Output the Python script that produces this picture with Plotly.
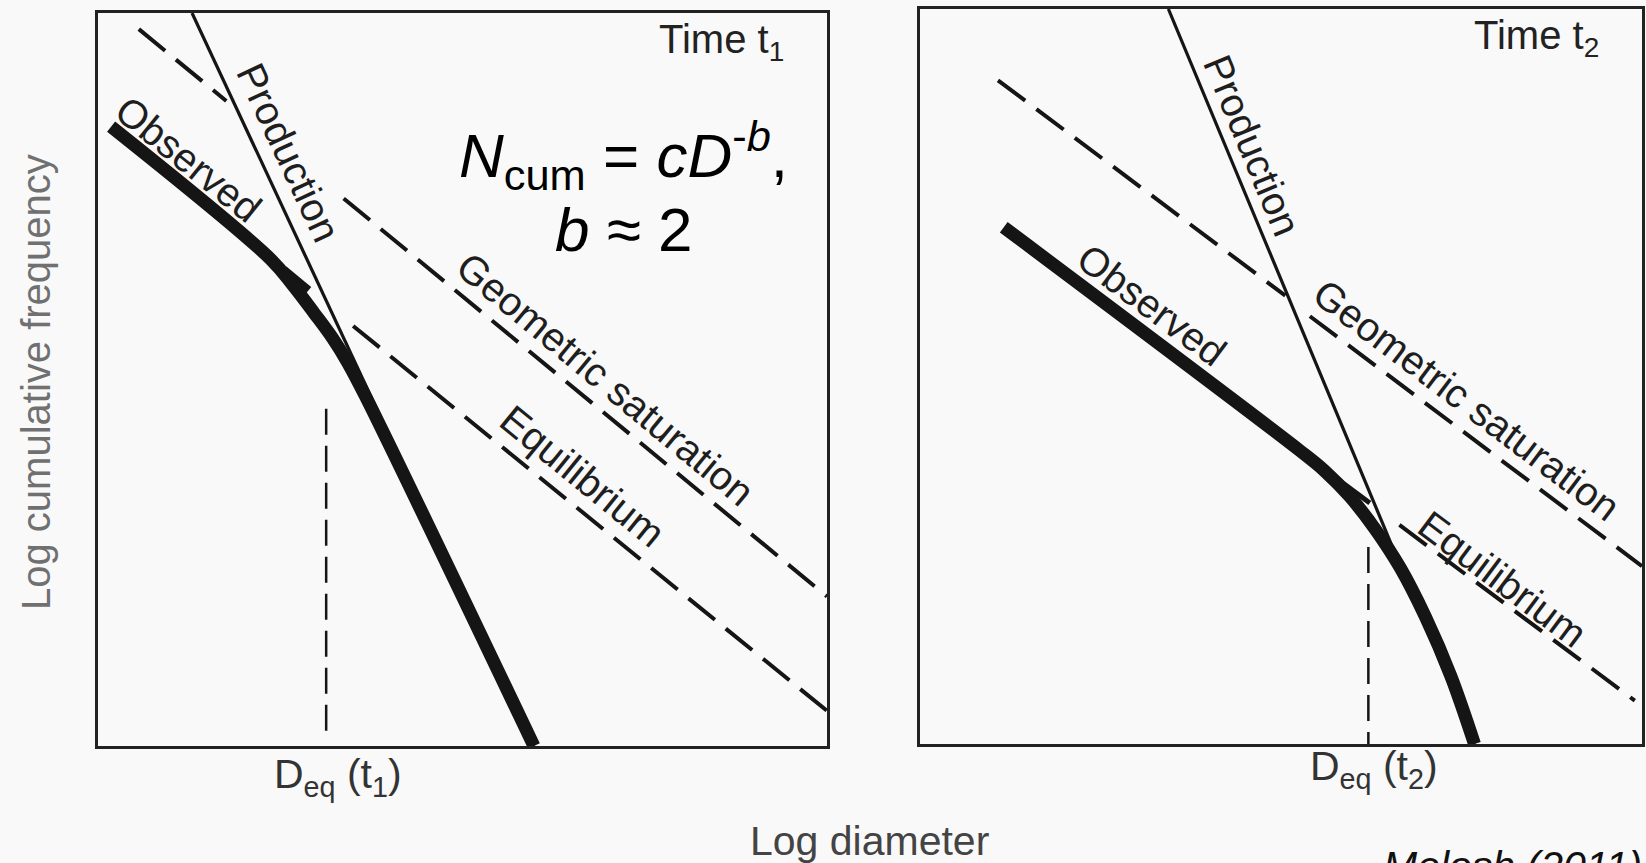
import plotly.graph_objects as go

# ---------------- data (schematic log-log units, 0..10 on each axis) ----------------
# Panel 1 : time t1
t1_production_x = [1.29, 5.98]
t1_production_y = [10.0, 0.0]
t1_saturation_a_x = [0.56, 1.76]
t1_saturation_a_y = [9.78, 8.80]
t1_saturation_b_x = [3.37, 10.0]
t1_saturation_b_y = [7.47, 2.04]
t1_equilibrium_x = [3.50, 10.0]
t1_equilibrium_y = [5.73, 0.48]
t1_observed_x = [0.18, 2.37, 2.67, 2.97, 3.22, 3.42, 3.67, 5.98]
t1_observed_y = [8.45, 6.64, 6.29, 5.90, 5.56, 5.24, 4.77, 0.00]
t1_notch_x = [2.55, 2.89]
t1_notch_y = [6.50, 6.22]
t1_deq_x = [3.13, 3.13]
t1_deq_y = [4.60, 0.15]

# Panel 2 : time t2
t2_production_x = [3.44, 7.68]
t2_production_y = [10.0, 0.0]
t2_saturation_a_x = [1.08, 5.06]
t2_saturation_a_y = [9.03, 6.10]
t2_saturation_b_x = [5.40, 10.0]
t2_saturation_b_y = [5.82, 2.42]
t2_equilibrium_x = [6.64, 9.90]
t2_equilibrium_y = [2.98, 0.59]
t2_observed_x = [1.16, 5.25, 5.60, 5.95, 6.30, 6.65, 7.00, 7.35, 7.68]
t2_observed_y = [7.03, 4.00, 3.72, 3.37, 2.93, 2.40, 1.73, 0.93, 0.00]
t2_notch_x = [5.53, 6.23]
t2_notch_y = [3.79, 3.28]
t2_deq_x = [6.21, 6.21]
t2_deq_y = [2.68, 0.0]

# text labels
panel_titles = ["Time t<sub>1</sub>", "Time t<sub>2</sub>"]
deq_labels = ["D<sub>eq</sub> (t<sub>1</sub>)", "D<sub>eq</sub> (t<sub>2</sub>)"]
x_title = "Log diameter"
y_title = "Log cumulative frequency"
formula_1 = "<i>N</i><sub>cum</sub> = <i>cD</i><sup>-<i>b</i></sup>,"
formula_2 = "<i>b</i> ≈ 2"
credit = "<i>Melosh (2011)</i>"

# ---------------- figure ----------------
W, H = 1646, 863
BG = "#f9f9f9"
INK = "#151515"
FONT = "Liberation Sans, Arial, Helvetica, sans-serif"

fig = go.Figure()


def line(x, y, ax, width, dash="solid", color=INK, shape="linear"):
    fig.add_trace(go.Scatter(
        x=x, y=y, xaxis="x" if ax == 1 else "x2", yaxis="y" if ax == 1 else "y2",
        mode="lines", hoverinfo="skip", showlegend=False,
        line=dict(color=color, width=width, dash=dash, shape=shape, smoothing=1.0),
    ))


DASH = "34px,14px"
VDASH = "26px,11px"

# panel 1
line(t1_saturation_a_x, t1_saturation_a_y, 1, 4, DASH)
line(t1_saturation_b_x, t1_saturation_b_y, 1, 4, DASH)
line(t1_equilibrium_x, t1_equilibrium_y, 1, 4, DASH)
line(t1_deq_x, t1_deq_y, 1, 2.5, VDASH)
line(t1_production_x, t1_production_y, 1, 3.2)
line(t1_notch_x, t1_notch_y, 1, 8)
line(t1_observed_x, t1_observed_y, 1, 13, shape="spline")

# panel 2
line(t2_saturation_a_x, t2_saturation_a_y, 2, 4, DASH)
line(t2_saturation_b_x, t2_saturation_b_y, 2, 4, DASH)
line(t2_equilibrium_x, t2_equilibrium_y, 2, 4, DASH)
line(t2_deq_x, t2_deq_y, 2, 2.5, VDASH)
line(t2_production_x, t2_production_y, 2, 3.2)
line(t2_notch_x, t2_notch_y, 2, 5)
line(t2_observed_x, t2_observed_y, 2, 13, shape="spline")

ann = []


def text(t, x, y, ax, size=40, angle=0, color="#1e1e1e", ref="data"):
    if ref == "paper":
        xr, yr = "paper", "paper"
    else:
        xr, yr = ("x", "y") if ax == 1 else ("x2", "y2")
    ann.append(dict(text=t, x=x, y=y, xref=xr, yref=yr, showarrow=False,
                    textangle=angle, xanchor="center", yanchor="middle",
                    font=dict(family=FONT, size=size, color=color)))


# in-panel labels, panel 1
text("Observed", 1.24, 8.01, 1, angle=39)
text("Production", 2.61, 8.10, 1, angle=65)
text("Geometric saturation", 6.96, 5.01, 1, angle=39.6)
text("Equilibrium", 6.65, 3.69, 1, angle=39.1)
text(panel_titles[0], 8.55, 9.60, 1, color="#222222")
text(formula_1, 7.21, 8.05, 1, size=62, color="#000000")
text(formula_2, 7.21, 7.04, 1, size=62, color="#000000")

# in-panel labels, panel 2
text("Production", 4.60, 8.15, 2, angle=67.4)
text("Observed", 3.21, 5.97, 2, angle=36.8)
text("Geometric saturation", 7.57, 4.68, 2, angle=37)
text("Equilibrium", 8.07, 2.25, 2, angle=36.8)
text(panel_titles[1], 8.54, 9.60, 2, color="#222222")

# outside labels (paper coords)
text(deq_labels[0], 338 / W, 1 - 777 / H, 0, size=41, color="#333333", ref="paper")
text(deq_labels[1], 1374 / W, 1 - 769 / H, 0, size=41, color="#333333", ref="paper")
text(x_title, 869 / W, 1 - 841 / H, 0, size=41, color="#444444", ref="paper")
text(y_title, 36 / W, 1 - 382 / H, 0, size=40, angle=-90, color="#707070", ref="paper")
text(credit, 1512 / W, 1 - 866 / H, 0, size=41, color="#111111", ref="paper")

axis_common = dict(range=[0, 10], showgrid=False, zeroline=False, showticklabels=False,
                   ticks="", showline=True, mirror=True, linecolor="#222222", linewidth=3,
                   fixedrange=True)

fig.update_layout(
    width=W, height=H,
    margin=dict(l=0, r=0, t=0, b=0),
    paper_bgcolor=BG, plot_bgcolor=BG,
    showlegend=False,
    hovermode=False,
    xaxis=dict(domain=[98 / W, 827 / W], anchor="y", **axis_common),
    yaxis=dict(domain=[1 - 746 / H, 1 - 13 / H], anchor="x", **axis_common),
    xaxis2=dict(domain=[920 / W, 1642 / W], anchor="y2", **axis_common),
    yaxis2=dict(domain=[1 - 744 / H, 1 - 9 / H], anchor="x2", **axis_common),
    annotations=ann,
)

fig.write_html("out.html", config={"displayModeBar": False},
               post_script="document.body.style.margin='0px';document.body.style.overflow='hidden';")
